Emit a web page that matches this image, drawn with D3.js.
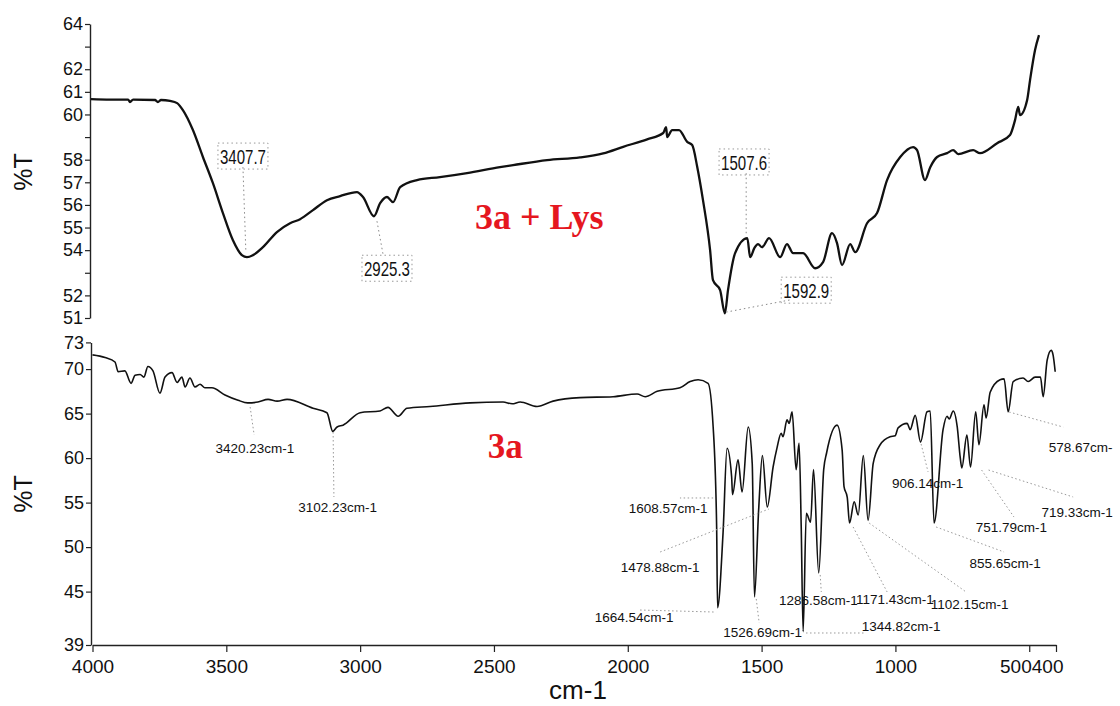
<!DOCTYPE html>
<html>
<head>
<meta charset="utf-8">
<script src="https://cdn.jsdelivr.net/npm/d3@7"></script>
<style>
  html, body { margin: 0; padding: 0; background: #fff; }
  svg { display: block; }
</style>
</head>
<body>
<svg id="chart" width="1120" height="706"></svg>
<script>
// ---- axis ticks ----
const xTicks = [4000, 3500, 3000, 2500, 2000, 1500, 1000, 500, 400];
const lysTicks = [51, 52, 53, 54, 55, 56, 57, 58, 59, 60, 61, 62, 63, 64];
const lysTickLabels = [51, 52, 54, 55, 56, 57, 58, 60, 61, 62, 64];
const baseTicks = [39, 45, 50, 55, 60, 65, 70, 73];

// ---- FTIR spectrum of 3a + Lys: [wavenumber cm-1, %T] ----
const lysSpectrum = [
  [4000,60.68],[3928,60.66],[3859,60.66],[3852,60.55],[3840,60.66],[3757,60.64],[3746,60.55],[3734,60.64],
  [3700,60.6],[3673,60.5],[3651,60.19],[3613,59.31],[3575,58.12],[3537,56.96],[3499,55.64],[3461,54.44],
  [3427,53.78],[3407.7,53.69],[3385,53.78],[3347,54.13],[3294,54.8],[3244,55.19],[3206,55.37],[3157,55.77],
  [3104,56.21],[3054,56.39],[2990,56.57],[2967,56.35],[2925.3,55.5],[2902,56.08],[2876,56.35],[2853,56.12],
  [2826,56.79],[2762,57.1],[2675,57.23],[2572,57.41],[2447,57.67],[2397,57.76],[2268,57.98],[2143,58.1],
  [2055,58.28],[1979,58.57],[1888,58.9],[1827,59.18],[1816,59.44],[1812,59.0],[1793,59.31],[1767,59.31],
  [1736,58.79],[1717,58.65],[1698,57.69],[1676,56.21],[1649,54.0],[1638,52.67],[1611,52.23],[1592.9,51.21],
  [1581,52.23],[1554,53.87],[1507.6,54.53],[1497,53.69],[1481,54.09],[1467,54.27],[1452,54.13],[1425,54.53],
  [1383,53.69],[1357,54.27],[1334,53.87],[1296,53.87],[1250,53.2],[1220,53.47],[1186,54.75],[1167,54.31],
  [1148,53.34],[1117,54.27],[1098,53.91],[1053,55.19],[1015,55.64],[977,57.1],[927,58.12],[878,58.56],
  [863,58.42],[833,57.1],[813,57.67],[787,58.12],[749,58.29],[726,58.42],[707,58.25],[650,58.42],
  [624,58.29],[559,58.73],[510,59.09],[491,59.75],[479,60.33],[472,59.97],[445,60.64],[434,61.52],
  [415,62.85],[400,63.51]
];

// ---- FTIR spectrum of 3a: [wavenumber cm-1, %T] ----
const baseSpectrum = [
  [4000,71.6],[3953,71.3],[3916,70.8],[3904,69.7],[3879,69.8],[3856,68.4],[3841,69.3],[3822,69.4],
  [3808,69.1],[3793,70.3],[3774,69.8],[3748,67.3],[3729,69.1],[3703,69.6],[3684,68.5],[3666,69.1],
  [3654,68.0],[3636,69.0],[3617,68.0],[3598,68.3],[3580,67.9],[3554,67.9],[3505,67.1],[3456,66.5],
  [3420.23,66.2],[3382,66.3],[3344,66.6],[3310,66.4],[3273,66.6],[3176,65.6],[3124,65.1],[3102.23,63.0],
  [3086,63.5],[3064,63.7],[3000,65.1],[2926,65.3],[2896,65.7],[2858,64.7],[2825,65.6],[2739,65.8],
  [2589,66.2],[2466,66.3],[2432,66.1],[2402,66.3],[2339,65.8],[2279,66.4],[2178,66.8],[2055,66.9],
  [1965,67.2],[1935,66.9],[1890,67.5],[1805,67.9],[1767,68.6],[1737,68.8],[1700,68.4],[1681,63.5],
  [1668,52.3],[1664.54,43.2],[1644,51.6],[1629,61.1],[1612,57.9],[1608.57,55.9],[1588,59.8],[1573,56.2],
  [1550,63.5],[1535,59.4],[1526.69,44.4],[1511,54.2],[1497,60.3],[1478.88,54.5],[1457,59.0],[1442,61.2],
  [1427,62.8],[1420,62.4],[1405,64.3],[1397,63.9],[1386,65.2],[1371,58.7],[1360,61.7],[1352,52.3],
  [1344.82,40.5],[1333,53.8],[1317,52.8],[1306,58.7],[1286.58,47.1],[1268,58.7],[1257,60.6],[1218,63.7],
  [1199,60.9],[1192,56.8],[1180,55.6],[1171.43,52.7],[1154,55.1],[1139,53.6],[1120,60.3],[1102.15,53.0],
  [1083,59.4],[1057,61.5],[1020,62.4],[1001,62.5],[990,63.4],[956,63.9],[945,63.2],[926,64.8],
  [906.14,61.8],[882,65.2],[870,65.3],[855.65,52.7],[822,63.2],[807,64.7],[799,64.4],[784,65.3],
  [769,63.5],[758,60.1],[751.79,58.9],[733,62.6],[719.33,59.0],[700,65.2],[688,61.5],[669,66.0],
  [661,64.5],[646,67.4],[609,68.8],[594,68.9],[578.67,65.2],[560,68.6],[523,69.0],[504,68.6],
  [478,69.1],[458,69.1],[448,66.9],[433,71.0],[418,72.1],[411,71.6],[403,69.7]
];

// ---- peak annotations: text centre, leader start and end (wavenumber, %T) ----
const lysPeaks = [
  { label: "3407.7", text: [3423, 58.16], from: [3423, 57.67], to: [3412, 53.95] },
  { label: "2925.3", text: [2876, 53.2],  from: [2914, 55.28], to: [2891, 53.82] },
  { label: "1507.6", text: [1520, 57.9],  from: [1512, 57.4],  to: [1512, 54.7] },
  { label: "1592.9", text: [1284, 52.23], from: [1588, 51.26], to: [1345, 51.8] }
];
const basePeaks = [
  { label: "3420.23cm-1", text: [3393, 61.13], from: [3411, 65.74], to: [3396, 62.6] },
  { label: "3102.23cm-1", text: [3084, 54.5],  from: [3101, 62.93], to: [3098, 55.63] },
  { label: "1608.57cm-1", text: [1849, 54.39], from: [1681, 55.52], to: [1805, 55.52] },
  { label: "1478.88cm-1", text: [1879, 47.76], from: [1879, 49.45], to: [1473, 54.28] },
  { label: "1664.54cm-1", text: [1976, 42.15], from: [1954, 42.93], to: [1670, 42.7] },
  { label: "1526.69cm-1", text: [1496, 40.46], from: [1520, 44.17], to: [1509, 41.47] },
  { label: "1344.82cm-1", text: [979, 41.13],  from: [1334, 40.35], to: [1111, 40.35] },
  { label: "1286.58cm-1", text: [1288, 44.06], from: [1281, 46.87], to: [1277, 44.96] },
  { label: "1171.43cm-1", text: [1002, 44.17], from: [1158, 52.26], to: [1031, 44.96] },
  { label: "1102.15cm-1", text: [723, 43.6],   from: [1098, 52.7],  to: [736, 44.96] },
  { label: "906.14cm-1",  text: [880, 57.2],   from: [904, 61.58],  to: [878, 58.44] },
  { label: "855.65cm-1",  text: [590, 48.21],  from: [848, 52.26],  to: [594, 49.45] },
  { label: "751.79cm-1",  text: [567, 52.26],  from: [678, 58.66],  to: [557, 53.38] },
  { label: "719.33cm-1",  text: [321, 53.94],  from: [652, 58.66],  to: [336, 55.63] },
  { label: "578.67cm-",   text: [308, 61.25],  from: [575, 65.18],  to: [373, 63.49] }
];

// ---- layout ----
const svg = d3.select("#chart");
const sans = "Liberation Sans, Arial, Helvetica, sans-serif";
const serif = "Liberation Serif, Times New Roman, serif";
const red = "#e5171f";

const xLys = d3.scaleLinear().domain([4000, 400]).range([91, 1039]);
const xBase = d3.scaleLinear().domain([4000, 400]).range([92.5, 1056]);
const yLys = d3.scaleLinear().domain([51, 64]).range([318, 24]);
const yBase = d3.scaleLinear().domain([39, 73]).range([645, 342.4]);

// ---- axes ----
const gLysAxis = svg.append("g").attr("transform", "translate(90,0)")
  .call(d3.axisLeft(yLys).tickValues(lysTicks).tickSize(5).tickSizeOuter(0)
    .tickFormat(d => lysTickLabels.includes(d) ? d : ""));
const gBaseAxis = svg.append("g").attr("transform", "translate(91,0)")
  .call(d3.axisLeft(yBase).tickValues(baseTicks).tickSize(5).tickSizeOuter(0));
const gX = svg.append("g").attr("transform", "translate(0,645)")
  .call(d3.axisBottom(xBase).tickValues(xTicks).tickSize(7).tickSizeOuter(0).tickFormat(d3.format("d")));

[gLysAxis, gBaseAxis].forEach(g => {
  g.selectAll("text").attr("font-family", sans).attr("font-size", 18).attr("fill", "#111").attr("dx", "1");
});
[gLysAxis, gBaseAxis, gX].forEach(g => {
  g.select(".domain").attr("stroke", "#222").attr("stroke-width", 1.4);
  g.selectAll(".tick line").attr("stroke", "#222").attr("stroke-width", 1.2);
});
gX.selectAll("text").attr("font-family", sans).attr("font-size", 19).attr("fill", "#111").attr("dy", "0.95em");
// 500 and 400 labels run together at the right end of the axis
gX.selectAll(".tick").filter(d => d === 500).select("text").attr("text-anchor", "end").attr("x", 2);
gX.selectAll(".tick").filter(d => d === 400).select("text").attr("text-anchor", "start")
  .attr("x", xBase(500) + 2 - xBase(400));

// axis titles
svg.append("text").attr("transform", "translate(32,172) rotate(-90)")
  .attr("text-anchor", "middle").attr("font-family", sans).attr("font-size", 25).attr("fill", "#111").text("%T");
svg.append("text").attr("transform", "translate(32,494) rotate(-90)")
  .attr("text-anchor", "middle").attr("font-family", sans).attr("font-size", 25).attr("fill", "#111").text("%T");
svg.append("text").attr("x", 578).attr("y", 699)
  .attr("text-anchor", "middle").attr("font-family", sans).attr("font-size", 26).attr("fill", "#111").text("cm-1");

// ---- spectra ----
const lineLys = d3.line().x(d => xLys(d[0])).y(d => yLys(d[1])).curve(d3.curveMonotoneX);
const lineBase = d3.line().x(d => xBase(d[0])).y(d => yBase(d[1])).curve(d3.curveMonotoneX);

svg.append("path").datum(lysSpectrum).attr("d", lineLys)
  .attr("fill", "none").attr("stroke", "#111").attr("stroke-width", 2.3).attr("stroke-linejoin", "round");
svg.append("path").datum(baseSpectrum).attr("d", lineBase)
  .attr("fill", "none").attr("stroke", "#111").attr("stroke-width", 1.6).attr("stroke-linejoin", "round");

// ---- peak annotations, 3a + Lys (boxed labels) ----
const gLysPeaks = svg.append("g");
lysPeaks.forEach(p => {
  gLysPeaks.append("line")
    .attr("x1", xLys(p.from[0])).attr("y1", yLys(p.from[1]))
    .attr("x2", xLys(p.to[0])).attr("y2", yLys(p.to[1]))
    .attr("stroke", "#888").attr("stroke-width", 1).attr("stroke-dasharray", "1.5,3");
  const cx = xLys(p.text[0]), cy = yLys(p.text[1]);
  gLysPeaks.append("rect")
    .attr("x", cx - 25).attr("y", cy - 13).attr("width", 50).attr("height", 26)
    .attr("fill", "none").attr("stroke", "#999").attr("stroke-width", 1).attr("stroke-dasharray", "1.5,3");
  gLysPeaks.append("text")
    .attr("x", cx).attr("y", cy).attr("dy", "0.36em")
    .attr("text-anchor", "middle").attr("font-family", sans).attr("font-size", 21)
    .attr("textLength", 46).attr("lengthAdjust", "spacingAndGlyphs")
    .attr("fill", "#111").text(p.label);
});

// ---- peak annotations, 3a ----
const gBasePeaks = svg.append("g");
basePeaks.forEach(p => {
  gBasePeaks.append("line")
    .attr("x1", xBase(p.from[0])).attr("y1", yBase(p.from[1]))
    .attr("x2", xBase(p.to[0])).attr("y2", yBase(p.to[1]))
    .attr("stroke", "#999").attr("stroke-width", 1).attr("stroke-dasharray", "1.5,2.5");
  gBasePeaks.append("text")
    .attr("x", xBase(p.text[0])).attr("y", yBase(p.text[1])).attr("dy", "0.36em")
    .attr("text-anchor", "middle").attr("font-family", sans).attr("font-size", 13.5)
    .attr("fill", "#111").text(p.label);
});

// ---- sample names ----
svg.append("text").attr("x", xLys(2298)).attr("y", yLys(55.5)).attr("dy", "0.35em")
  .attr("text-anchor", "middle").attr("font-family", serif).attr("font-weight", "bold")
  .attr("font-size", 36).attr("fill", red).text("3a + Lys");
svg.append("text").attr("x", xBase(2458)).attr("y", yBase(61.36)).attr("dy", "0.35em")
  .attr("text-anchor", "middle").attr("font-family", serif).attr("font-weight", "bold")
  .attr("font-size", 35).attr("fill", red).text("3a");
</script>
</body>
</html>
